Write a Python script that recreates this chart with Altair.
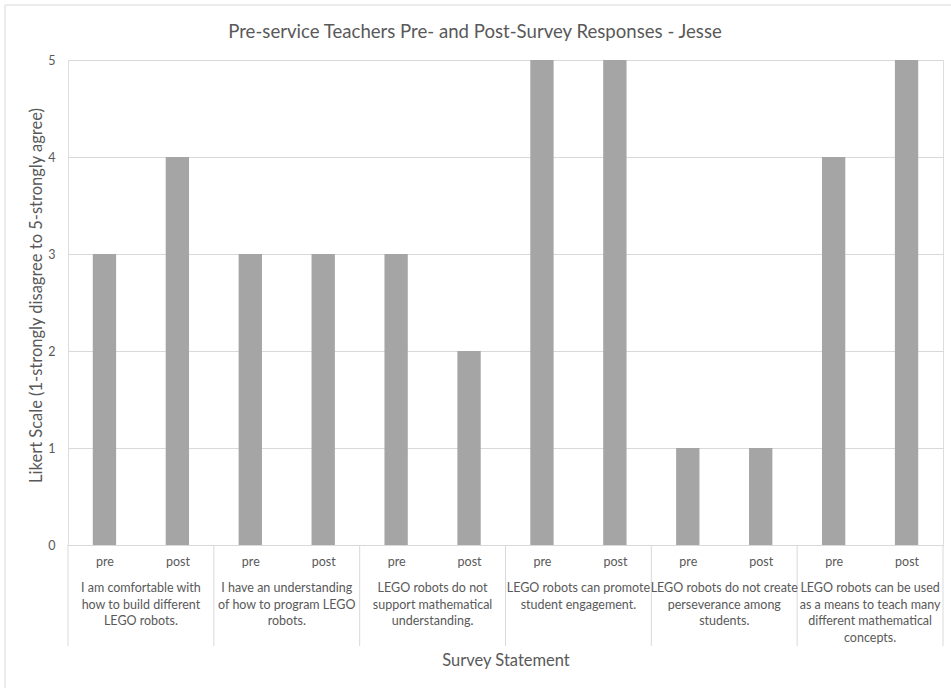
import altair as alt
import pandas as pd

# ---- data ----
title_text = "Pre-service Teachers Pre- and Post-Survey Responses - Jesse"
statements = [
    ["I am comfortable with", "how to build different", "LEGO robots."],
    ["I have an understanding", "of how to program LEGO", "robots."],
    ["LEGO robots do not", "support mathematical", "understanding."],
    ["LEGO robots can promote", "student engagement."],
    ["LEGO robots do not create", "perseverance among", "students."],
    ["LEGO robots can be used", "as a means to teach many", "different mathematical", "concepts."],
]
phases = ["pre", "post"]
pre_values = [3, 3, 3, 5, 1, 4]
post_values = [4, 3, 2, 5, 1, 5]

TEXT = "#595959"
GRID = "#D9D9D9"
BAR = "#A5A5A5"
FONT = "Lato"

rows = []
for g, (p, q) in enumerate(zip(pre_values, post_values)):
    for k, (ph, v) in enumerate(zip(phases, [p, q])):
        rows.append({"group": g, "phase": ph, "idx": 2 * g + k, "value": v})
bars_df = pd.DataFrame(rows)

groups_df = pd.DataFrame({
    "group": list(range(len(statements))),
    "label": ["\n".join(s) for s in statements],
})
bounds_df = pd.DataFrame({"b": list(range(0, 2 * len(statements) + 1, 2))})

W, H = 875, 485
xscale = alt.Scale(domain=[0, 2 * len(statements)], nice=False, zero=False)
xaxis = alt.Axis(values=[i + 0.5 for i in range(2 * len(statements))],
                 labelExpr="floor(datum.value) % 2 == 0 ? 'pre' : 'post'",
                 grid=False, ticks=False, tickSize=0, domain=True,
                 domainColor=GRID, domainWidth=1,
                 labelFont=FONT, labelFontSize=12.5, labelColor=TEXT,
                 labelPadding=10, labelBaseline="top",
                 title="Survey Statement", titleFont=FONT, titleFontSize=16.5,
                 titleFontWeight="normal", titleColor=TEXT,
                 titleY=115, titleBaseline="middle")

bars = alt.Chart(bars_df).transform_calculate(
    xs="datum.idx + 0.34", xe="datum.idx + 0.66"
).mark_bar(color=BAR).encode(
    x=alt.X("xs:Q", scale=xscale, axis=xaxis),
    x2="xe:Q",
    y=alt.Y("value:Q", scale=alt.Scale(domain=[0, 5], nice=False),
            axis=alt.Axis(values=[0, 1, 2, 3, 4, 5], grid=True, gridColor=GRID,
                          domain=False, ticks=False, tickSize=0,
                          labelFont=FONT, labelFontSize=12.5, labelColor=TEXT,
                          labelPadding=13,
                          title="Likert Scale (1-strongly disagree to 5-strongly agree)",
                          titleFont=FONT, titleFontSize=16.5, titleFontWeight="normal",
                          titleColor=TEXT, titleAngle=270, titleX=-32, titleY=235,
                          titleBaseline="middle", titleAlign="center")),
    y2=alt.datum(0),
)

group_text = alt.Chart(groups_df).transform_calculate(
    gc="2 * datum.group + 1"
).mark_text(font=FONT, fontSize=12.5, color=TEXT, lineBreak="\n",
            lineHeight=16.5, baseline="top", align="center").encode(
    x=alt.X("gc:Q", scale=xscale, axis=xaxis),
    y=alt.value(H + 37),
    text="label:N",
)

separators = alt.Chart(bounds_df).mark_rule(color=GRID, strokeWidth=1).encode(
    x=alt.X("b:Q", scale=xscale, axis=xaxis),
    y=alt.value(H),
    y2=alt.value(H + 101),
)

title_mark = alt.Chart(pd.DataFrame({"t": [title_text]})).mark_text(
    font=FONT, fontSize=18.6, color=TEXT, align="center", baseline="middle"
).encode(x=alt.value(407), y=alt.value(-28), text="t:N")

frame = alt.Chart(pd.DataFrame({"k": [0]})).mark_rule(color=GRID, strokeWidth=1)
frame_left = frame.encode(x=alt.value(-63), y=alt.value(-55), y2=alt.value(H + 143))
frame_top = frame.encode(x=alt.value(-63), x2=alt.value(W + 8), y=alt.value(-55))

chart = alt.layer(separators, bars, group_text, title_mark, frame_left, frame_top).properties(
    width=W, height=H,
    autosize=alt.AutoSizeParams(type="none"),
    padding={"left": 68, "top": 60, "right": 8, "bottom": 143},
).configure_view(stroke=None).configure(background="white")

chart.save("out.html", embed_options={"renderer": "svg", "actions": False})
